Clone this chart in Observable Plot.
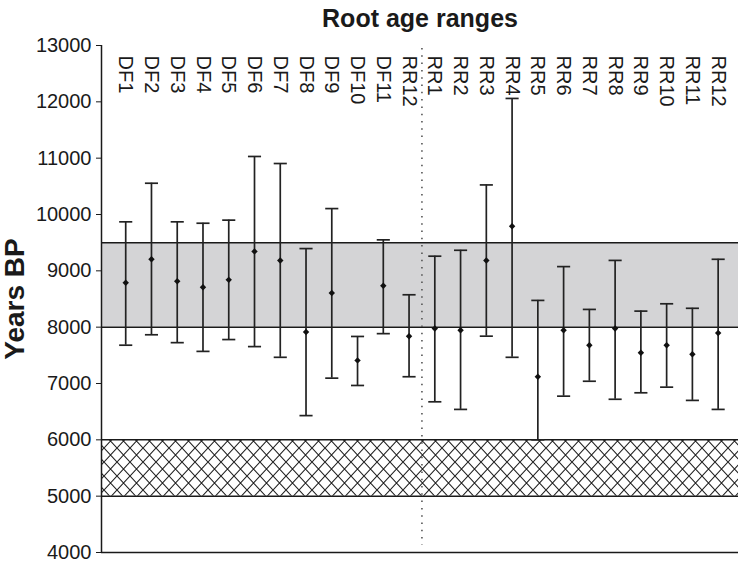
<!DOCTYPE html>
<html><head><meta charset="utf-8">
<script src="https://cdn.jsdelivr.net/npm/d3@7"></script>
<script src="https://cdn.jsdelivr.net/npm/@observablehq/plot@0.6"></script>
<style>body{margin:0;background:#fff;}</style>
</head><body>
<svg width="0" height="0" style="position:absolute">
<defs><pattern id="hatch" width="13" height="14" patternUnits="userSpaceOnUse">
<path d="M0,0L13,14M13,0L0,14" stroke="#222" stroke-width="1.1" fill="none"/>
</pattern></defs></svg>
<div id="chart"></div>
<script>
const labels = ["DF1","DF2","DF3","DF4","DF5","DF6","DF7","DF8","DF9","DF10","DF11","RR12",
                "RR1","RR2","RR3","RR4","RR5","RR6","RR7","RR8","RR9","RR10","RR11","RR12"];
const centers = [8790,9205,8815,8710,8840,9345,9185,7915,8605,7410,8735,7840,
                 7975,7945,9185,9790,7120,7945,7680,7975,7545,7680,7520,7895];
const lows = [7680,7865,7725,7570,7780,7655,7465,6430,7095,6965,7885,7120,
              6675,6540,7840,7465,6000,6775,7040,6720,6835,6935,6700,6540];
const highs = [9870,10555,9870,9845,9900,11030,10905,9395,10105,7835,9550,8575,
               9260,9365,10525,12060,8475,9075,8315,9185,8285,8415,8335,9205];
const yTicks = [4000,5000,6000,7000,8000,9000,10000,11000,12000,13000];
const xDomain = [0.06, 24.79];
const separator = [12.5];
const shadedBand = [{y1: 8000, y2: 9500}];
const hatchedBand = [{y1: 5000, y2: 6000}];
const bandEdges = [5000, 6000, 8000, 9500];
const titleText = ["Root age ranges"];
const yLabel = ["Years BP"];

const data = labels.map((label, k) => ({i: k + 1, label, mid: centers[k], lo: lows[k], hi: highs[k]}));

const capSymbol = {draw(ctx, size) { const w = Math.sqrt(size); ctx.moveTo(-w, 0); ctx.lineTo(w, 0); }};

const ink = "#1a1a1a";
const chart = Plot.plot({
  width: 738,
  height: 562,
  marginLeft: 101,
  marginRight: 0,
  marginTop: 45,
  marginBottom: 10,
  style: {fontFamily: "'Liberation Sans', Arial, Helvetica, sans-serif", fontSize: "20px", color: ink, background: "#fff", overflow: "visible"},
  x: {domain: xDomain, axis: null},
  y: {domain: [yTicks[0], yTicks[yTicks.length - 1]], axis: null},
  marks: [
    Plot.rect(shadedBand, {y1: "y1", y2: "y2", fill: "#d4d4d6"}),
    Plot.rect(hatchedBand, {y1: "y1", y2: "y2", fill: "url(#hatch)"}),
    Plot.ruleY(bandEdges, {stroke: ink, strokeWidth: 1.5}),
    Plot.ruleY([yTicks[0]], {stroke: ink, strokeWidth: 1.5}),
    Plot.ruleX([xDomain[0]], {stroke: ink, strokeWidth: 1.5}),
    Plot.axisY({ticks: yTicks, tickSize: 5, tickPadding: 5, label: null, tickFormat: d => String(d), fontSize: 20, stroke: ink}),
    Plot.ruleX(separator, {stroke: "#555", strokeWidth: 1.6, strokeDasharray: "1.5,5.8", insetTop: 3, insetBottom: 7}),
    Plot.ruleX(data, {x: "i", y1: "lo", y2: "hi", stroke: "#222", strokeWidth: 1.7}),
    Plot.dot(data, {x: "i", y: "hi", symbol: capSymbol, r: 3.7, stroke: "#222", strokeWidth: 1.7, fill: "none"}),
    Plot.dot(data, {x: "i", y: "lo", symbol: capSymbol, r: 3.7, stroke: "#222", strokeWidth: 1.7, fill: "none"}),
    Plot.dot(data, {x: "i", y: "mid", symbol: "diamond2", r: 2.9, fill: "#111", stroke: "none"}),
    Plot.text(data, {x: "i", text: "label", frameAnchor: "top", rotate: 90, textAnchor: "start", lineAnchor: "middle", dy: 10, fontSize: 20, fill: ink}),
    Plot.text(titleText, {text: d => d, frameAnchor: "top", lineAnchor: "middle", dy: -27, fontSize: 25, fontWeight: "bold", fill: ink}),
    Plot.text(yLabel, {text: d => d, frameAnchor: "left", rotate: -90, textAnchor: "middle", lineAnchor: "middle", dx: -86, fontSize: 28, fontWeight: "bold", fill: ink})
  ]
});
document.getElementById("chart").appendChild(chart);
</script>
</body></html>
